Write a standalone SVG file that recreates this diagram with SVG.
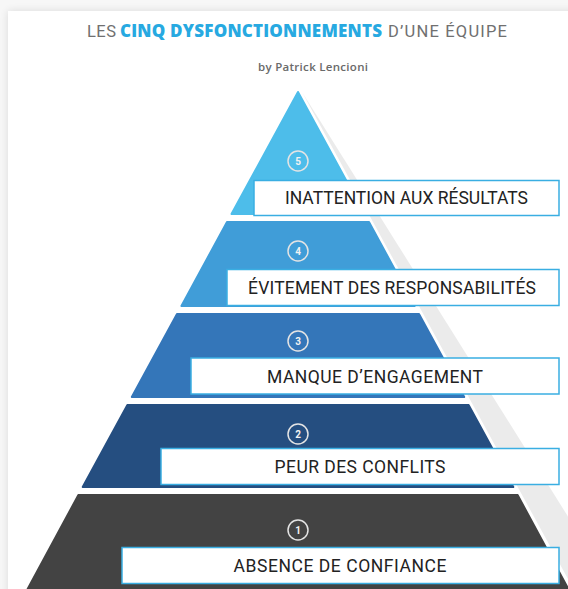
<svg xmlns="http://www.w3.org/2000/svg" width="568" height="589" viewBox="0 0 568 589">
  <defs>
    <filter id="cardShadow" x="-10%" y="-10%" width="120%" height="120%">
      <feGaussianBlur in="SourceAlpha" stdDeviation="4"/>
      <feComponentTransfer><feFuncA type="linear" slope="0.12"/></feComponentTransfer>
      <feMerge><feMergeNode/><feMergeNode in="SourceGraphic"/></feMerge>
    </filter>
    <style>
      .title { font-family: Roboto, "Liberation Sans", sans-serif; font-size: 16.5px; fill: #707070; }
      .title-hl { font-family: "Open Sans", Roboto, "Liberation Sans", sans-serif; font-size: 17px; font-weight: 800; fill: #27a9e1; }
      .byline { font-family: "Open Sans", Roboto, "Liberation Sans", sans-serif; font-size: 11.5px; fill: #6a6a6a; font-weight: 600; }
      .tier { stroke-width: 2; stroke-linejoin: round; }
      .box { fill: #ffffff; stroke: #3aaee2; stroke-width: 1.5; }
      .label { font-family: Roboto, "Liberation Sans", sans-serif; font-size: 17.5px; fill: #222222; text-anchor: middle; }
      .badge { fill: none; stroke: #e4e4e4; stroke-width: 1.5; }
      .num { font-family: Roboto, "Liberation Sans", sans-serif; font-size: 10px; font-weight: bold; fill: #f2f2f2; text-anchor: middle; }
    </style>
  </defs>

  <!-- page and card -->
  <rect x="0" y="0" width="568" height="589" fill="#f7f7f7"/>
  <rect x="8" y="11" width="580" height="600" fill="#ffffff" filter="url(#cardShadow)"/>

  <!-- heading -->
  <text class="title" x="87" y="36.5" textLength="29">LES</text>
  <text class="title-hl" x="120" y="36.5" textLength="262">CINQ DYSFONCTIONNEMENTS</text>
  <text class="title" x="388" y="36.5" textLength="119">D’UNE ÉQUIPE</text>
  <text class="byline" x="258" y="71" textLength="110">by Patrick Lencioni</text>

  <!-- side face of the pyramid -->
  <polygon points="302,92 614,590 574,590" fill="#ebebeb"/>

  <g id="tier-5">
    <polygon class="tier" points="298,92 364.5,214 231.5,214" fill="#4dbdea" stroke="#4dbdea"/>
    <circle class="badge" cx="298" cy="161" r="10"/>
    <text class="num" x="298" y="164.5">5</text>
    <rect class="box" x="254" y="180.5" width="305" height="35"/>
    <text class="label" x="406.5" y="203.5" textLength="243">INATTENTION AUX RÉSULTATS</text>
  </g>

  <g id="tier-4">
    <polygon class="tier" points="227,222 369,222 414.6,306 181.4,306" fill="#409dd8" stroke="#409dd8"/>
    <circle class="badge" cx="298" cy="251" r="10"/>
    <text class="num" x="298" y="254.5">4</text>
    <rect class="box" x="227" y="269.5" width="332" height="36"/>
    <text class="label" x="392" y="294" textLength="288">ÉVITEMENT DES RESPONSABILITÉS</text>
  </g>

  <g id="tier-3">
    <polygon class="tier" points="177,314 419,314 464.2,397 131.8,397" fill="#3476b9" stroke="#3476b9"/>
    <circle class="badge" cx="298" cy="341" r="10"/>
    <text class="num" x="298" y="344.5">3</text>
    <rect class="box" x="191" y="358" width="368" height="36"/>
    <text class="label" x="375" y="383" textLength="216">MANQUE D’ENGAGEMENT</text>
  </g>

  <g id="tier-2">
    <polygon class="tier" points="127.4,405 468.6,405 513.3,487 82.7,487" fill="#254e80" stroke="#254e80"/>
    <circle class="badge" cx="298" cy="434" r="10"/>
    <text class="num" x="298" y="437.5">2</text>
    <rect class="box" x="161" y="448.5" width="398" height="36"/>
    <text class="label" x="360" y="473" textLength="171">PEUR DES CONFLITS</text>
  </g>

  <g id="tier-1">
    <polygon class="tier" points="78.4,495 517.6,495 570,592 26,592" fill="#434343" stroke="#434343"/>
    <circle class="badge" cx="298" cy="530" r="10"/>
    <text class="num" x="298" y="533.5">1</text>
    <rect class="box" x="122" y="547.5" width="437" height="36"/>
    <text class="label" x="340" y="572" textLength="213">ABSENCE DE CONFIANCE</text>
  </g>
</svg>
